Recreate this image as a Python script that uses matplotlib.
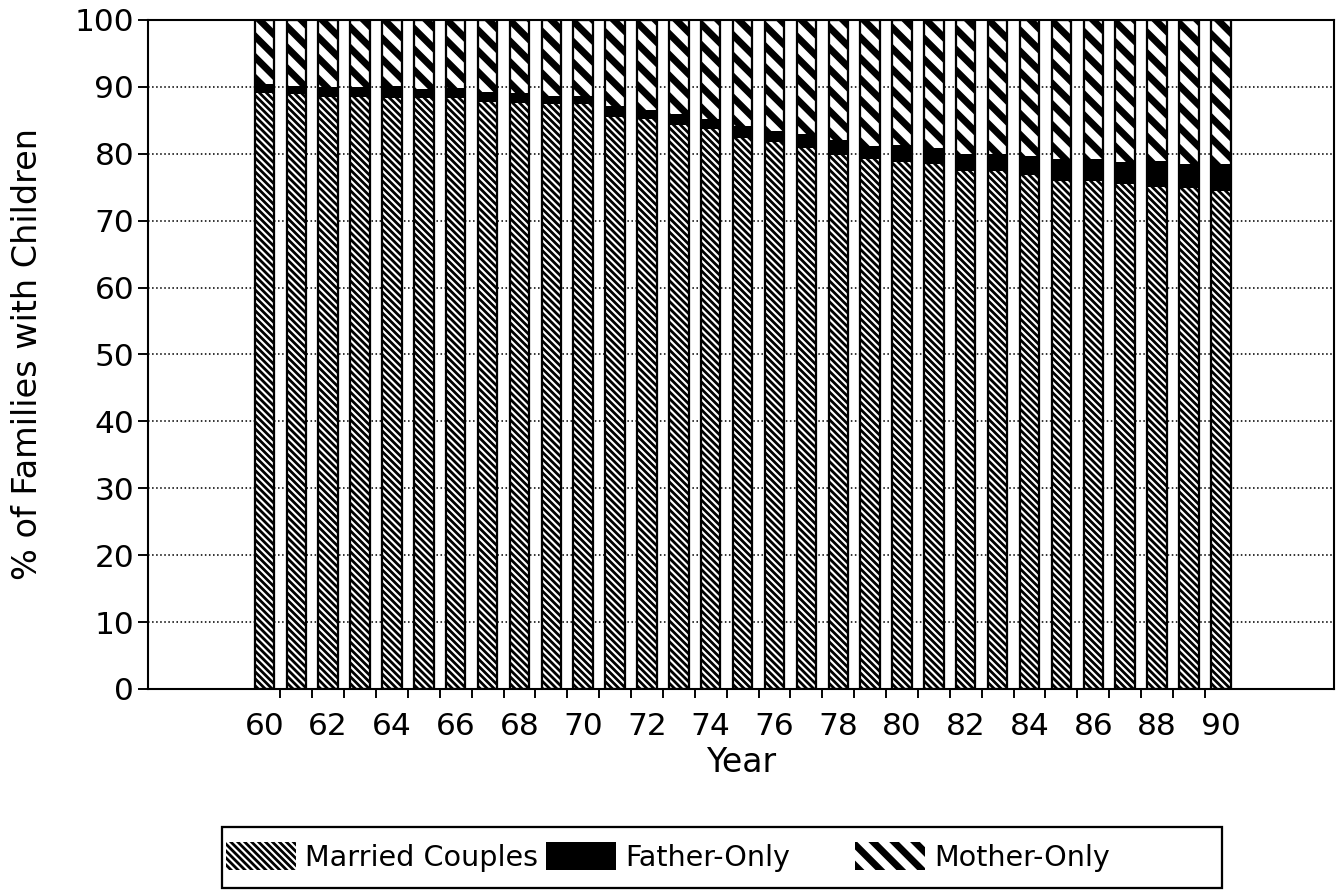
import numpy as np
import matplotlib
matplotlib.use("Agg")
import matplotlib.pyplot as plt
from matplotlib.patches import Rectangle

plt.rcParams['font.family'] = ['DejaVu Sans']

# years 1960-1990, share of families with children (%)
years = list(range(60, 91))
married = [89.1, 88.9, 88.5, 88.5, 88.4, 88.4, 88.3, 87.8, 87.6, 87.4,
           87.5, 85.5, 85.2, 84.3, 83.7, 82.3, 81.7, 80.9, 79.8, 79.2,
           78.8, 78.4, 77.4, 77.4, 76.8, 75.9, 75.9, 75.5, 75.1, 74.9, 74.4]
father = [1.3, 1.2, 1.5, 1.5, 1.7, 1.3, 1.6, 1.5, 1.5, 1.3,
          1.2, 1.6, 1.4, 1.6, 1.5, 1.9, 1.7, 2.0, 2.2, 2.0,
          2.5, 2.5, 2.6, 2.6, 2.9, 3.3, 3.3, 3.2, 3.8, 3.6, 4.0]
mother = [9.6, 9.9, 10.0, 10.0, 9.9, 10.3, 10.1, 10.7, 10.9, 11.3,
          11.3, 12.9, 13.4, 14.1, 14.8, 15.8, 16.6, 17.1, 18.0, 18.8,
          18.7, 19.1, 20.0, 20.0, 20.3, 20.8, 20.8, 21.3, 21.1, 21.5, 21.6]
year_labels = [str(y) for y in years[::2]]
series_names = ['Married Couples', 'Father-Only', 'Mother-Only']

married = np.array(married)
father = np.array(father)
mother = np.array(mother)
x = np.arange(len(years))
w = 0.61

# fill, hatch colour, hatch, hatch linewidth for each series
styles = [('white', 'black', '\\' * 6, 1.6),
          ('black', 'black', None, 1.0),
          ('black', 'white', '\\' * 2, 4.5)]

fig = plt.figure(figsize=(10.688, 7.136), dpi=125)
ax = fig.add_axes([0.1108, 0.2276, 0.8877, 0.75])

def hatch_lw(bars, lw):
    for b in bars:
        if hasattr(b, 'set_hatch_linewidth'):
            b.set_hatch_linewidth(lw)
        else:
            b._hatch_linewidth = lw

bottom = np.zeros(len(years))
for vals, (fc, ec, hat, hlw) in zip([married, father, mother], styles):
    plt.rcParams['hatch.linewidth'] = hlw
    bars = ax.bar(x, vals, w, bottom=bottom, color=fc, edgecolor=ec, hatch=hat,
                  linewidth=0, zorder=2)
    hatch_lw(bars, hlw)
    bottom = bottom + vals
# black outlines round each bar
ax.bar(x, bottom, w, fill=False, edgecolor='black', linewidth=1.3, zorder=3)

ax.set_xlim(-3.65, 33.55)
ax.set_ylim(0, 100)
ax.set_yticks(np.arange(0, 101, 10))
ax.set_xticks(x[::2])
ax.set_xticklabels(year_labels)
ax.set_xticks(x[:-1] + 0.5, minor=True)
ax.tick_params(axis='x', which='major', length=0, pad=13, labelsize=18)
ax.tick_params(axis='x', which='minor', length=5, width=1.1, direction='out')
ax.tick_params(axis='y', length=6, width=1.1, pad=2, labelsize=18)
ax.yaxis.grid(True, linestyle=(0, (1, 1.6)), color='black', linewidth=0.9, zorder=0)
ax.set_axisbelow(True)
for s in ax.spines.values():
    s.set_linewidth(1.2)

ax.set_xlabel('Year', fontsize=19, labelpad=3)
ax.set_ylabel('% of Families with Children', fontsize=19.3)
ax.yaxis.set_label_coords(-0.088, 0.5)

# legend box with three entries
fig.patches.append(Rectangle((222 / 1336, 4 / 892), 1000 / 1336, 61 / 892,
                             transform=fig.transFigure, fill=False,
                             edgecolor='black', linewidth=1.3))
for (fc, ec, hat, hlw), name, x0 in zip(styles, series_names, [226, 546, 855]):
    plt.rcParams['hatch.linewidth'] = hlw
    proxy = Rectangle((0, 0), 1, 1, facecolor=fc, edgecolor=ec, hatch=hat, linewidth=0)
    fig.legend(handles=[proxy], labels=[name], loc='center left',
               bbox_to_anchor=(x0 / 1336, 35 / 892), fontsize=16.5,
               handlelength=2.45, handleheight=1.1, handletextpad=0.3,
               frameon=False, borderpad=0, borderaxespad=0)

fig.savefig('out.png', dpi=125)
